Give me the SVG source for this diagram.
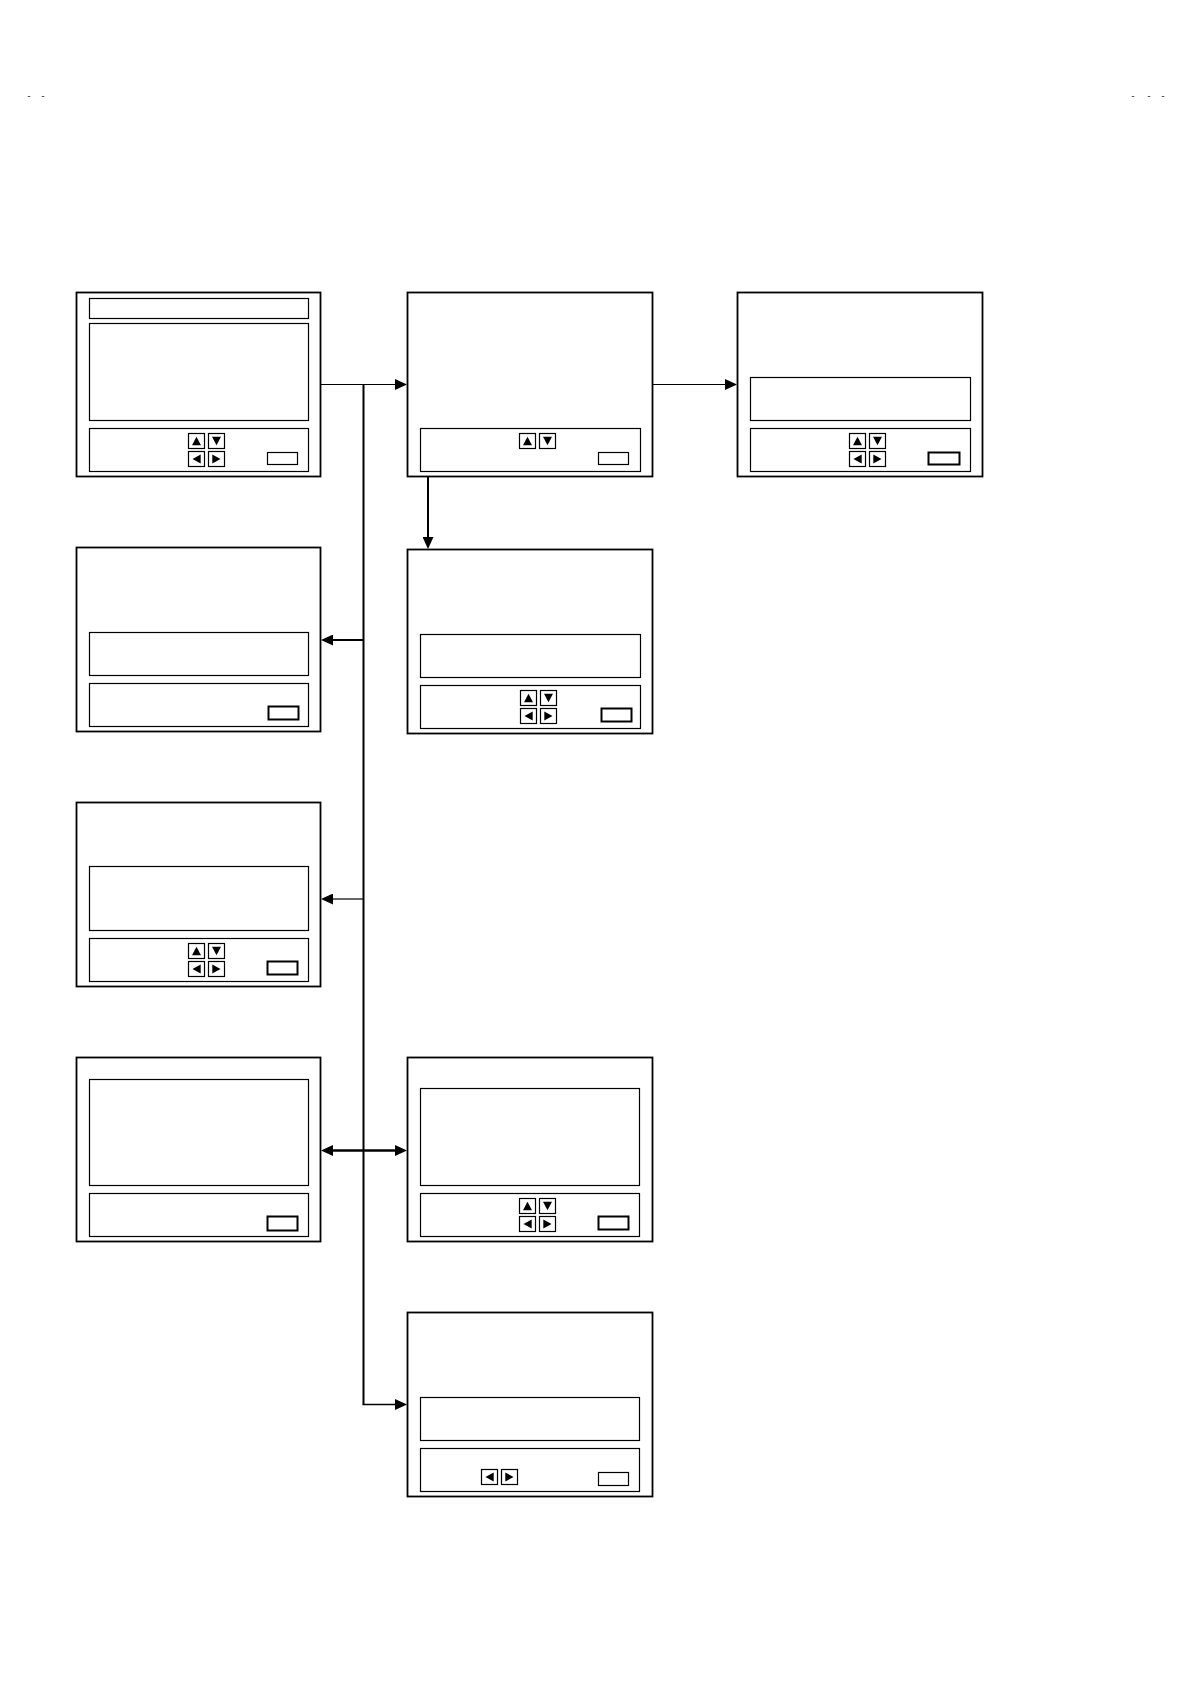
<svg xmlns="http://www.w3.org/2000/svg" xmlns:xlink="http://www.w3.org/1999/xlink" width="1191" height="1685" viewBox="0 0 1191 1685">
<style>
.outer{fill:#fff;stroke:#000;stroke-width:1.8}
.in{fill:none;stroke:#000;stroke-width:1.2}
.sm{fill:none;stroke:#000;stroke-width:1.2}
.smb{fill:none;stroke:#000;stroke-width:2}
.ln{fill:none;stroke:#000}
.dash{font-family:"Liberation Sans",Arial,sans-serif;font-size:9px;fill:#000;text-anchor:middle}
</style>
<defs>
<marker id="ah" viewBox="0 0 12 11" markerUnits="userSpaceOnUse" markerWidth="12" markerHeight="11" refX="0" refY="5.5" orient="auto-start-reverse">
<path d="M0,0 L12,5.5 L0,11 z" fill="#000"/>
</marker>
<g id="bup"><rect x="0" y="0" width="16" height="15" fill="#fff" stroke="#000" stroke-width="1.2"/><path d="M3.5,11.8 L8,3.2 L12.5,11.8 z" fill="#000"/></g>
<g id="bdn"><rect x="0" y="0" width="16" height="15" fill="#fff" stroke="#000" stroke-width="1.2"/><path d="M3.5,3.2 L12.5,3.2 L8,11.8 z" fill="#000"/></g>
<g id="blt"><rect x="0" y="0" width="16" height="15" fill="#fff" stroke="#000" stroke-width="1.2"/><path d="M12.2,3 L12.2,12 L4,7.5 z" fill="#000"/></g>
<g id="brt"><rect x="0" y="0" width="16" height="15" fill="#fff" stroke="#000" stroke-width="1.2"/><path d="M3.8,3 L3.8,12 L12,7.5 z" fill="#000"/></g>
</defs>
<rect width="1191" height="1685" fill="#fff"/>

<g id="header-marks">
<text class="dash" x="29" y="99">-</text>
<text class="dash" x="43" y="99">-</text>
<text class="dash" x="1133" y="99">-</text>
<text class="dash" x="1149" y="99">-</text>
<text class="dash" x="1163" y="99">-</text>
</g>

<g id="connectors">
<path class="ln" stroke-width="2" d="M363.5,384.5 V1404.5"/>
<path class="ln" stroke-width="1.2" d="M320.5,384.5 H395" marker-end="url(#ah)"/>
<path class="ln" stroke-width="1.2" d="M652.5,384.5 H725" marker-end="url(#ah)"/>
<path class="ln" stroke-width="2" d="M428,477 V537" marker-end="url(#ah)"/>
<path class="ln" stroke-width="2" d="M363.5,640 H333" marker-end="url(#ah)"/>
<path class="ln" stroke-width="1.2" d="M363.5,899 H333" marker-end="url(#ah)"/>
<path class="ln" stroke-width="2.5" d="M333,1150.5 H395" marker-start="url(#ah)" marker-end="url(#ah)"/>
<path class="ln" stroke-width="1.5" d="M362.5,1404.5 H395" marker-end="url(#ah)"/>
</g>

<g id="box1">
<rect class="outer" x="76.5" y="292.5" width="244" height="184"/>
<rect class="in" x="89.5" y="298.5" width="219" height="20"/>
<rect class="in" x="89.5" y="323.5" width="219" height="97"/>
<rect class="in" x="89.5" y="428.5" width="219" height="43"/>
<use xlink:href="#bup" x="188.5" y="433.5"/>
<use xlink:href="#bdn" x="208.5" y="433.5"/>
<use xlink:href="#blt" x="188.5" y="451.5"/>
<use xlink:href="#brt" x="208.5" y="451.5"/>
<rect class="sm" x="267.5" y="452.5" width="30" height="12"/>
</g>

<g id="box2">
<rect class="outer" x="407.5" y="292.5" width="245" height="184"/>
<rect class="in" x="420.5" y="428.5" width="220" height="43"/>
<use xlink:href="#bup" x="519.5" y="433.5"/>
<use xlink:href="#bdn" x="539.5" y="433.5"/>
<rect class="sm" x="598.5" y="452.5" width="30" height="12"/>
</g>

<g id="box3">
<rect class="outer" x="737.5" y="292.5" width="245" height="184"/>
<rect class="in" x="750.5" y="377.5" width="220" height="43"/>
<rect class="in" x="750.5" y="428.5" width="220" height="43"/>
<use xlink:href="#bup" x="849.5" y="433.5"/>
<use xlink:href="#bdn" x="869.5" y="433.5"/>
<use xlink:href="#blt" x="849.5" y="451.5"/>
<use xlink:href="#brt" x="869.5" y="451.5"/>
<rect class="smb" x="928.5" y="452.5" width="31" height="12"/>
</g>

<g id="box-row2-left">
<rect class="outer" x="76.5" y="547.5" width="244" height="184"/>
<rect class="in" x="89.5" y="632.5" width="219" height="43"/>
<rect class="in" x="89.5" y="683.5" width="219" height="43"/>
<rect class="smb" x="268.5" y="706.5" width="30" height="13"/>
</g>

<g id="box-row2-right">
<rect class="outer" x="407.5" y="549.5" width="245" height="184"/>
<rect class="in" x="420.5" y="634.5" width="220" height="43"/>
<rect class="in" x="420.5" y="685.5" width="220" height="43"/>
<use xlink:href="#bup" x="520.5" y="690.5"/>
<use xlink:href="#bdn" x="540.5" y="690.5"/>
<use xlink:href="#blt" x="520.5" y="708.5"/>
<use xlink:href="#brt" x="540.5" y="708.5"/>
<rect class="smb" x="601.5" y="708.5" width="30" height="13"/>
</g>

<g id="box-row3-left">
<rect class="outer" x="76.5" y="802.5" width="244" height="184"/>
<rect class="in" x="89.5" y="866.5" width="219" height="64"/>
<rect class="in" x="89.5" y="938.5" width="219" height="43"/>
<use xlink:href="#bup" x="188.5" y="943.5"/>
<use xlink:href="#bdn" x="208.5" y="943.5"/>
<use xlink:href="#blt" x="188.5" y="961.5"/>
<use xlink:href="#brt" x="208.5" y="961.5"/>
<rect class="smb" x="267.5" y="961.5" width="30" height="13"/>
</g>

<g id="box-row4-left">
<rect class="outer" x="76.5" y="1057.5" width="244" height="184"/>
<rect class="in" x="89.5" y="1079.5" width="219" height="106"/>
<rect class="in" x="89.5" y="1193.5" width="219" height="43"/>
<rect class="smb" x="267.5" y="1216.5" width="30" height="14"/>
</g>

<g id="box-row4-right">
<rect class="outer" x="407.5" y="1057.5" width="245" height="184"/>
<rect class="in" x="420.5" y="1088.5" width="219" height="97"/>
<rect class="in" x="420.5" y="1193.5" width="219" height="43"/>
<use xlink:href="#bup" x="519.5" y="1198.5"/>
<use xlink:href="#bdn" x="539.5" y="1198.5"/>
<use xlink:href="#blt" x="519.5" y="1216.5"/>
<use xlink:href="#brt" x="539.5" y="1216.5"/>
<rect class="smb" x="598.5" y="1216.5" width="30" height="13"/>
</g>

<g id="box-row5">
<rect class="outer" x="407.5" y="1312.5" width="245" height="184"/>
<rect class="in" x="420.5" y="1397.5" width="219" height="43"/>
<rect class="in" x="420.5" y="1448.5" width="219" height="43"/>
<use xlink:href="#blt" x="481.5" y="1469.5"/>
<use xlink:href="#brt" x="501.5" y="1469.5"/>
<rect class="sm" x="598.5" y="1472.5" width="30" height="13"/>
</g>
</svg>
